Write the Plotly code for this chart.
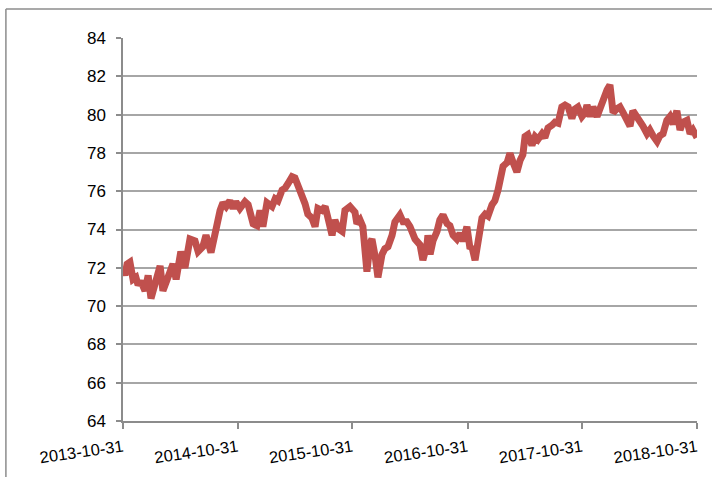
import datetime as dt
import plotly.graph_objects as go

start_date = "2013-10-31"
# days elapsed since the start date for each observation
day_offsets = [
    0, 6, 13, 22, 32, 41, 48, 57, 70, 80, 89, 102, 118, 127, 143, 159, 169, 184, 197, 213,
    229, 239, 254, 264, 280, 293, 302, 309, 318, 328, 340, 350, 359, 372, 388, 398, 414, 426, 436, 445,
    458, 474, 484, 493, 506, 515, 525, 538, 547, 557, 569, 579, 588, 601, 611, 620, 633, 643, 652, 665,
    674, 684, 697, 706, 722, 732, 738, 744, 754, 763, 770, 776, 786, 792, 802, 811, 824, 833, 843, 856,
    865, 881, 891, 903, 913, 929, 945, 954, 967, 970, 977, 986, 999, 1008, 1018, 1031, 1040, 1050, 1062, 1072,
    1082, 1094, 1104, 1110, 1120, 1129, 1142, 1152, 1161, 1174, 1183, 1193, 1206, 1209, 1222, 1231, 1241, 1253, 1263, 1272,
    1279, 1288, 1301, 1311, 1320, 1333, 1342, 1352, 1365, 1374, 1384, 1396, 1406, 1416, 1428, 1438, 1447, 1460, 1470, 1476,
    1486, 1495, 1508, 1517, 1527, 1540, 1549, 1556, 1559, 1571, 1581, 1591, 1603, 1613, 1622, 1635, 1645, 1654, 1667, 1676,
    1686, 1699, 1708, 1718, 1730, 1740, 1750, 1762, 1772, 1781, 1794, 1804, 1813, 1826,
]
values = [
    72.0, 71.6, 72.2, 72.3, 71.4, 71.5, 71.1, 71.3, 70.8, 71.6, 70.4, 71.2, 72.1, 70.8, 71.6, 72.2, 71.4, 72.85, 72.0, 73.5,
    73.4, 72.85, 73.1, 73.7, 72.8, 74.0, 74.5, 75.0, 75.4, 75.2, 75.5, 75.1, 75.45, 75.1, 75.45, 75.3, 74.3, 74.2, 75.0, 74.15,
    75.4, 75.2, 75.6, 75.5, 76.06, 76.15, 76.4, 76.76, 76.7, 76.3, 75.9, 75.35, 74.8, 74.6, 74.15, 75.1, 75.0, 75.2, 74.6, 73.7,
    74.5, 74.05, 73.9, 75.0, 75.2, 75.0, 74.9, 74.3, 74.5, 74.15, 72.6, 71.8, 73.3, 73.5, 72.6, 71.5, 72.7, 73.0, 73.1, 73.7,
    74.4, 74.76, 74.4, 74.4, 74.15, 73.5, 73.2, 72.4, 73.2, 73.7, 72.7, 73.4, 73.9, 74.5, 74.76, 74.3, 74.2, 73.7, 73.5, 73.8,
    73.4, 74.15, 73.0, 73.1, 72.4, 73.6, 74.6, 74.8, 74.7, 75.3, 75.5, 76.06, 77.0, 77.3, 77.5, 77.98, 77.5, 77.0, 77.6, 77.9,
    78.85, 78.95, 78.4, 78.85, 78.7, 79.0, 78.8, 79.3, 79.45, 79.6, 79.55, 80.4, 80.5, 80.4, 79.8, 80.3, 80.4, 79.9, 80.1, 80.5,
    79.9, 80.4, 79.9, 80.3, 80.94, 81.3, 81.55, 80.9, 80.1, 80.3, 80.4, 80.1, 79.8, 79.4, 80.2, 79.9, 79.6, 79.4, 79.0, 79.2,
    78.9, 78.6, 78.9, 79.0, 79.7, 79.9, 79.5, 80.2, 79.2, 79.6, 79.7, 79.0, 79.2, 78.8,
]
x_tick_labels = ["2013-10-31", "2014-10-31", "2015-10-31", "2016-10-31", "2017-10-31", "2018-10-31"]
y_ticks = [64, 66, 68, 70, 72, 74, 76, 78, 80, 82, 84]

base = dt.date.fromisoformat(start_date)
dates = [base + dt.timedelta(days=d) for d in day_offsets]

fig = go.Figure()
fig.add_trace(go.Scatter(
    x=dates, y=values, mode="lines",
    line=dict(color="#C0504D", width=7),
    hoverinfo="x+y",
))

fig.update_layout(
    width=712, height=477,
    margin=dict(l=123, r=15, t=38, b=56, autoexpand=False),
    paper_bgcolor="white", plot_bgcolor="white",
    showlegend=False,
    font=dict(family="Liberation Sans, Arial, sans-serif", size=17, color="#000000"),
    xaxis=dict(
        type="date",
        range=[x_tick_labels[0], x_tick_labels[-1]],
        tickmode="array", tickvals=x_tick_labels, ticktext=x_tick_labels,
        tickangle=-8,
        ticks="outside", ticklen=6, tickcolor="#8c8c8c", tickwidth=1.5,
        showline=True, linecolor="#8c8c8c", linewidth=1.5,
        showgrid=False, zeroline=False,
        tickfont=dict(size=16.5), ticklabelstandoff=3,
    ),
    yaxis=dict(
        range=[64, 84], tickmode="array", tickvals=y_ticks,
        ticks="outside", ticklen=5, tickcolor="#8c8c8c", tickwidth=1.5,
        showline=True, linecolor="#8c8c8c", linewidth=1.5,
        showgrid=True, gridcolor="#a6a6a6", gridwidth=2,
        zeroline=False, ticklabelstandoff=7,
    ),
    shapes=[
        dict(type="line", xref="paper", yref="paper", x0=-0.204, x1=1.1, y0=1.0757, y1=1.0757,
             line=dict(color="#8c8c8c", width=1.5)),
        dict(type="line", xref="paper", yref="paper", x0=-0.204, x1=-0.204, y0=1.0757, y1=-0.2,
             line=dict(color="#8c8c8c", width=1.5)),
    ],
)

fig.write_html(
    "out.html",
    config={"displayModeBar": False},
    post_script="document.body.style.margin='0';document.body.style.padding='0';",
)
